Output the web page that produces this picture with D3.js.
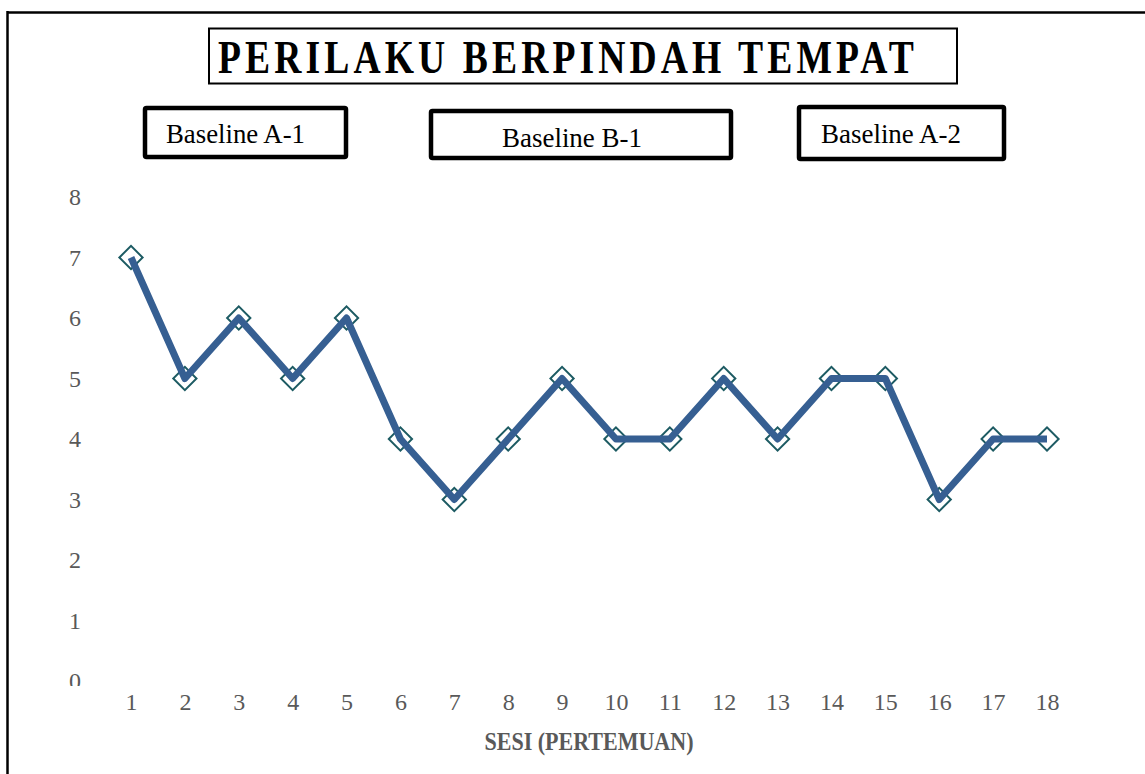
<!DOCTYPE html>
<html>
<head>
<meta charset="utf-8">
<script src="https://cdn.jsdelivr.net/npm/d3@7"></script>
<style>
  html, body { margin: 0; padding: 0; background: #fff; }
  svg { display: block; }
</style>
</head>
<body>
<svg id="chart" width="1145" height="774"></svg>
<script>
const sessions = [1,2,3,4,5,6,7,8,9,10,11,12,13,14,15,16,17,18];
const values = [7,5,6,5,6,4,3,4,5,4,4,5,4,5,5,3,4,4];
const yTicks = [0,1,2,3,4,5,6,7,8];
const title = "PERILAKU BERPINDAH TEMPAT";
const xAxisTitle = "SESI (PERTEMUAN)";
const phaseLabels = ["Baseline A-1", "Baseline B-1", "Baseline A-2"];

const svg = d3.select("#chart");
const serif = "'Liberation Serif', 'DejaVu Serif', serif";

// outer chart border
svg.append("line").attr("x1", 7).attr("x2", 1145).attr("y1", 12.5).attr("y2", 12.5)
  .attr("stroke", "#000").attr("stroke-width", 2.5);
svg.append("line").attr("x1", 7.5).attr("x2", 7.5).attr("y1", 11).attr("y2", 774)
  .attr("stroke", "#000").attr("stroke-width", 2.5);

const x = d3.scaleLinear().domain([1, 18]).range([131, 1047]);
const y = d3.scaleLinear().domain([0, 8]).range([681, 197]);

// y axis labels (clipped at bottom like the reference)
svg.append("clipPath").attr("id", "yclip").append("rect")
  .attr("x", -100).attr("y", 150).attr("width", 200).attr("height", 536);
const yAxis = svg.append("g").attr("clip-path", "url(#yclip)")
  .attr("transform", "translate(84,0)")
  .call(d3.axisLeft(y).tickValues(yTicks).tickSize(0).tickPadding(0).tickFormat(d3.format("d")));
yAxis.select(".domain").remove();
yAxis.selectAll("text").attr("font-family", serif).attr("font-size", 24)
  .attr("fill", "#595959").attr("text-anchor", "middle").attr("x", -9).attr("dy", "0.33em");

const xAxis = svg.append("g").attr("transform", "translate(0,693)")
  .call(d3.axisBottom(x).tickValues(sessions).tickSize(0).tickPadding(0).tickFormat(d3.format("d")));
xAxis.select(".domain").remove();
xAxis.selectAll("text").attr("font-family", serif).attr("font-size", 24).attr("fill", "#595959")
  .attr("dy", "0.72em");

svg.append("text").attr("x", 589).attr("y", 750).attr("text-anchor", "middle")
  .attr("font-family", serif).attr("font-weight", "bold").attr("font-size", 25)
  .attr("fill", "#595959").attr("textLength", 209).attr("lengthAdjust", "spacingAndGlyphs")
  .text(xAxisTitle);

// diamond markers
const sym = d3.symbol().type(d3.symbolSquare).size(270);
svg.append("g").selectAll("path").data(values).join("path")
  .attr("d", sym)
  .attr("transform", (d, i) => `translate(${x(sessions[i])},${y(d)}) rotate(45)`)
  .attr("fill", "none").attr("stroke", "#1d5b63").attr("stroke-width", 2);

// data line
const line = d3.line().x((d, i) => x(sessions[i])).y(d => y(d));
svg.append("path").datum(values).attr("d", line)
  .attr("fill", "none").attr("stroke", "#365f92").attr("stroke-width", 7)
  .attr("stroke-linejoin", "round").attr("stroke-linecap", "butt");

// title box
svg.append("rect").attr("x", 209).attr("y", 28.5).attr("width", 748).attr("height", 55)
  .attr("fill", "#fff").attr("stroke", "#000").attr("stroke-width", 2);
svg.append("text").attr("x", 218).attr("y", 73)
  .attr("font-family", serif)
  .attr("font-weight", "bold")
  .attr("font-size", 46).attr("letter-spacing", 5).attr("fill", "#000")
  .attr("textLength", 700).attr("lengthAdjust", "spacingAndGlyphs")
  .text(title);

// phase boxes
const boxes = [
  {x: 145, y: 108, w: 201, h: 49, tx: 166, ty: 143, tl: 139},
  {x: 431, y: 111, w: 300, h: 47, tx: 502, ty: 147, tl: 140},
  {x: 799, y: 107, w: 205, h: 52, tx: 821, ty: 143, tl: 140}
];
const bg = svg.append("g").selectAll("g").data(phaseLabels).join("g");
bg.append("rect")
  .attr("x", (d, i) => boxes[i].x).attr("y", (d, i) => boxes[i].y)
  .attr("width", (d, i) => boxes[i].w).attr("height", (d, i) => boxes[i].h)
  .attr("rx", 1.5)
  .attr("fill", "#fff").attr("stroke", "#000").attr("stroke-width", 4.5);
bg.append("text")
  .attr("x", (d, i) => boxes[i].tx).attr("y", (d, i) => boxes[i].ty)
  .attr("font-family", serif).attr("font-size", 27).attr("fill", "#000")
  .attr("textLength", (d, i) => boxes[i].tl).attr("lengthAdjust", "spacingAndGlyphs")
  .text(d => d);
</script>
</body>
</html>
